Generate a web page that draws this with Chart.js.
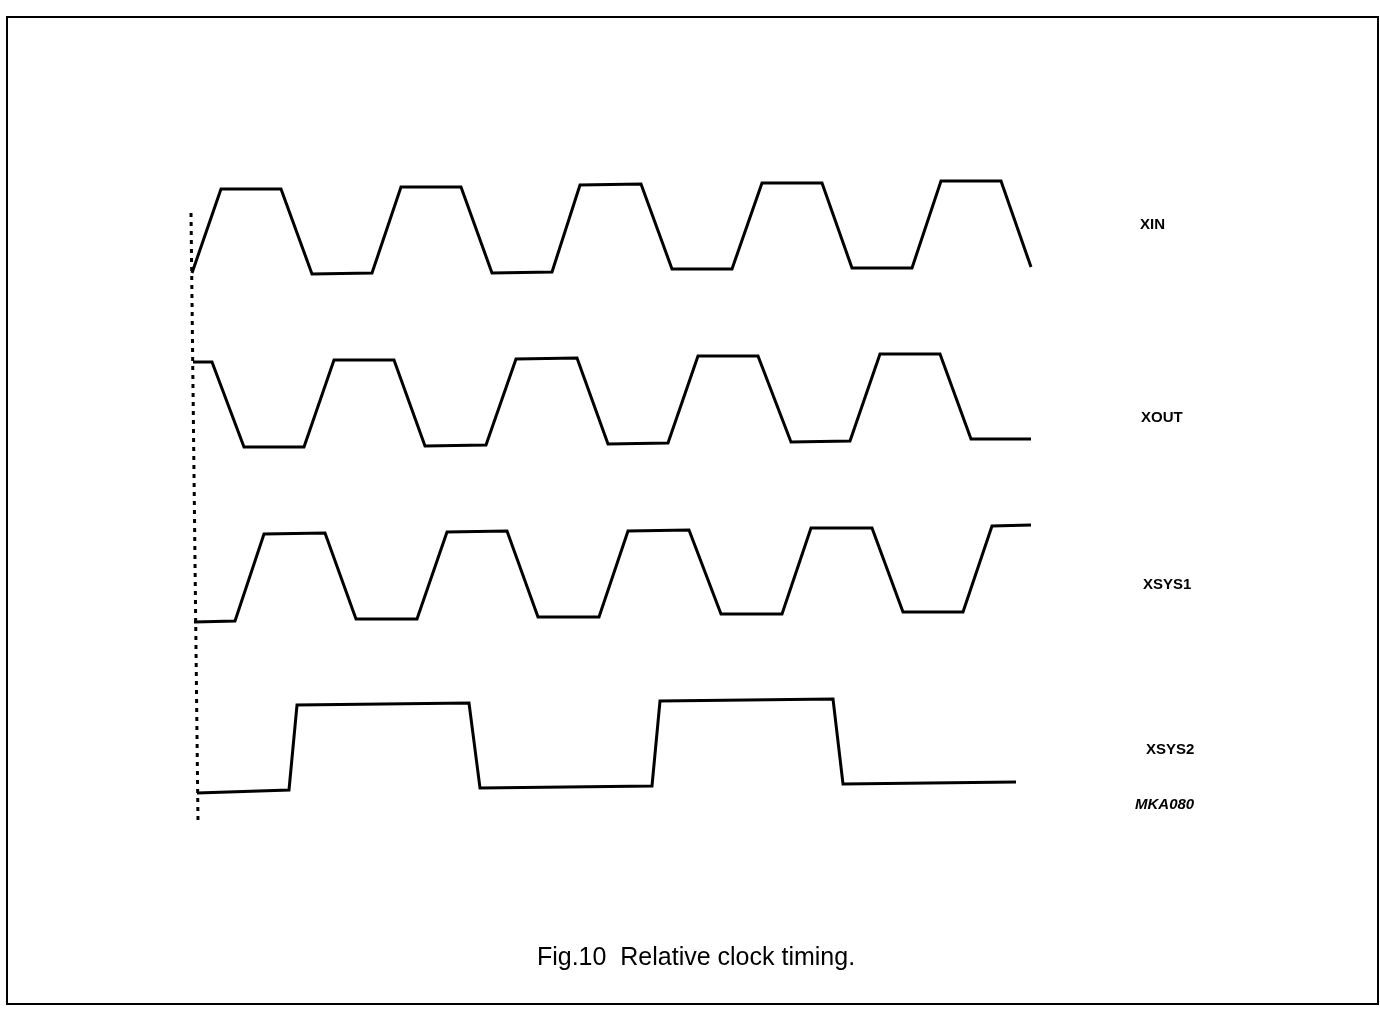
<!DOCTYPE html>
<html>
<head>
<meta charset="utf-8">
<script src="https://cdn.jsdelivr.net/npm/chart.js@4.4.1/dist/chart.umd.min.js"></script>
<style>
  html, body { margin: 0; padding: 0; background: #fff; }
  #wrap { position: relative; width: 1380px; height: 1015px; }
  #frame { position: absolute; left: 6px; top: 16px; width: 1369px; height: 985px; border: 2px solid #000; pointer-events: none; }
  canvas { position: absolute; left: 0; top: 0; }
</style>
</head>
<body>
<div id="wrap">
  <canvas id="timing" width="1380" height="1015"></canvas>
  <div id="frame"></div>
</div>
<script>
// time (horizontal) and level (vertical), one pair of arrays per signal
const xinT  = [192, 221, 281, 312, 372, 401, 461, 492, 552, 580, 641, 672, 732, 762, 822, 852, 912, 941, 1001, 1031];
const xinV  = [273, 189, 189, 274, 273, 187, 187, 273, 272, 185, 184, 269, 269, 183, 183, 268, 268, 181, 181, 267];

const xoutT = [193, 212, 244, 304, 334, 394, 425, 486, 516, 577, 608, 668, 698, 758, 791, 850, 880, 940, 971, 1031];
const xoutV = [362, 362, 447, 447, 360, 360, 446, 445, 359, 358, 444, 443, 356, 356, 442, 441, 354, 354, 439, 439];

const sys1T = [194, 235, 264, 325, 356, 417, 447, 507, 538, 599, 628, 689, 721, 782, 811, 872, 903, 963, 992, 1031];
const sys1V = [622, 621, 534, 533, 619, 619, 532, 531, 617, 617, 531, 530, 614, 614, 528, 528, 612, 612, 526, 525];

const sys2T = [197, 289, 297, 469, 480, 652, 660, 833, 843, 1016];
const sys2V = [793, 790, 705, 703, 788, 786, 701, 699, 784, 782];

// dotted reference line at t = 0
const refT = [191, 198];
const refV = [213, 822];

const signalNames = ['XIN', 'XOUT', 'XSYS1', 'XSYS2'];
const caption = 'Fig.10  Relative clock timing.';
const figCode = 'MKA080';

const toPoints = (t, v) => t.map((x, i) => ({ x: x, y: v[i] }));

const wave = (label, t, v) => ({
  label: label,
  data: toPoints(t, v),
  borderColor: '#000',
  borderWidth: 3,
  pointRadius: 0,
  tension: 0,
  fill: false,
  borderJoinStyle: 'miter',
});

// label placement (pixel-like units of the same scales)
const nameAt = [[1140, 225], [1141, 418], [1143, 585], [1146, 750]];

const textPlugin = {
  id: 'timingText',
  afterDraw(chart) {
    const { ctx, scales: { x, y } } = chart;
    ctx.save();
    ctx.fillStyle = '#000';
    ctx.textBaseline = 'middle';
    ctx.textAlign = 'left';
    ctx.font = 'bold 15px "Liberation Sans", Arial, sans-serif';
    signalNames.forEach((n, i) => {
      ctx.fillText(n, x.getPixelForValue(nameAt[i][0]), y.getPixelForValue(nameAt[i][1]));
    });
    ctx.font = 'italic bold 15px "Liberation Sans", Arial, sans-serif';
    ctx.fillText(figCode, x.getPixelForValue(1135), y.getPixelForValue(805));
    ctx.textAlign = 'center';
    ctx.font = '25px "Liberation Sans", Arial, sans-serif';
    ctx.fillText(caption, x.getPixelForValue(696), y.getPixelForValue(958));
    ctx.restore();
  }
};

new Chart(document.getElementById('timing'), {
  type: 'line',
  data: {
    datasets: [
      wave('XIN', xinT, xinV),
      wave('XOUT', xoutT, xoutV),
      wave('XSYS1', sys1T, sys1V),
      wave('XSYS2', sys2T, sys2V),
      {
        label: 'ref',
        data: toPoints(refT, refV),
        borderColor: '#000',
        borderWidth: 3,
        borderDash: [4, 5],
        pointRadius: 0,
        fill: false,
      },
    ],
  },
  options: {
    responsive: false,
    animation: false,
    layout: { padding: 0 },
    plugins: {
      legend: { display: false },
      tooltip: { enabled: false },
    },
    scales: {
      x: { type: 'linear', min: 0, max: 1380, display: false },
      y: { type: 'linear', min: 0, max: 1015, reverse: true, display: false },
    },
  },
  plugins: [textPlugin],
});
</script>
</body>
</html>
